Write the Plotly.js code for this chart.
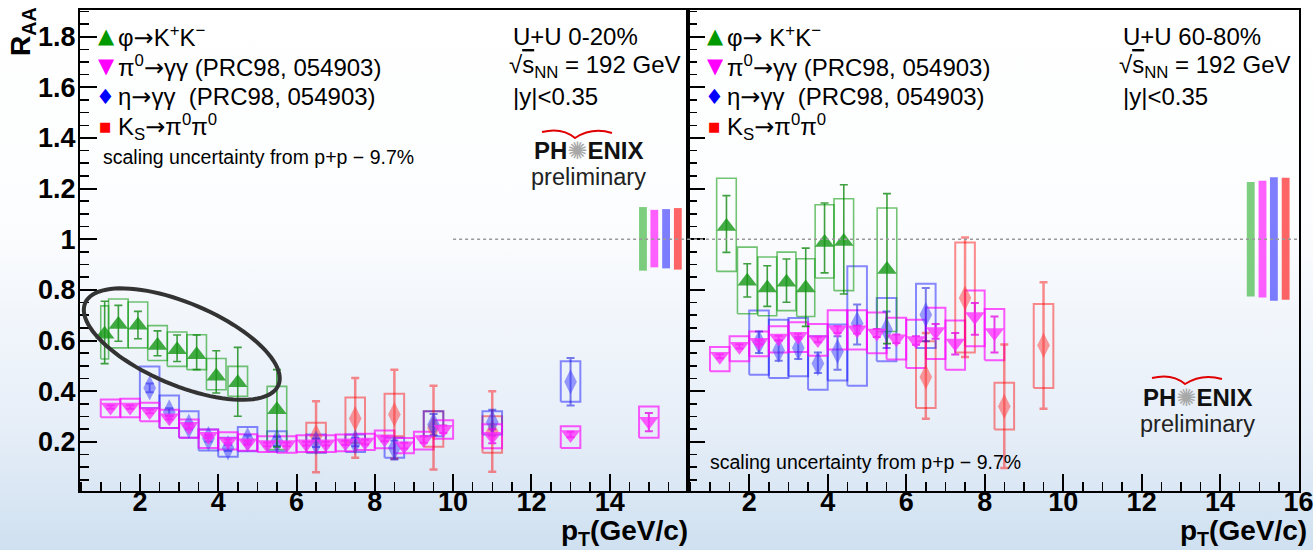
<!DOCTYPE html>
<html><head><meta charset="utf-8">
<script src="https://cdn.plot.ly/plotly-3.0.1.min.js"></script>
<style>
html,body{margin:0;padding:0;}
body{width:1313px;height:550px;overflow:hidden;background:linear-gradient(180deg,#ffffff 0%,#fcfdfe 40%,#e6eef8 78%,#cfe0f0 100%);}
#chart{width:1313px;height:550px;}
</style></head><body><div id="chart"></div>
<script>
// ================= DATA : U+U 0-20% (left panel) =================
const phiL_pt     = [1.1, 1.45, 1.95, 2.45, 2.95, 3.45, 3.95, 4.5, 5.5];
const phiL_raa    = [0.625, 0.663, 0.66, 0.58, 0.564, 0.544, 0.459, 0.433, 0.327];
const phiL_statHi = [0.755, 0.739, 0.715, 0.638, 0.622, 0.622, 0.56, 0.573, 0.485];
const phiL_statLo = [0.509, 0.597, 0.607, 0.54, 0.517, 0.485, 0.393, 0.301, 0.18];
const phiL_sysLo  = [0.527, 0.571, 0.571, 0.521, 0.498, 0.485, 0.406, 0.38, 0.17];
const phiL_sysHi  = [0.737, 0.764, 0.752, 0.659, 0.634, 0.623, 0.529, 0.498, 0.419];

const pi0L_pt     = [1.25,1.75,2.25,2.75,3.25,3.75,4.25,4.75,5.25,5.75,6.25,6.75,7.25,7.75,8.25,8.75,9.25,9.75,11,13,15];
const pi0L_raa    = [0.338,0.338,0.32,0.295,0.262,0.222,0.202,0.196,0.19,0.19,0.193,0.193,0.196,0.199,0.212,0.185,0.209,0.25,0.222,0.229,0.281];
const pi0L_statHi = [0.345,0.345,0.327,0.302,0.269,0.229,0.209,0.203,0.197,0.197,0.2,0.2,0.204,0.208,0.222,0.196,0.222,0.265,0.25,0.24,0.314];
const pi0L_statLo = [0.331,0.331,0.313,0.288,0.255,0.215,0.195,0.189,0.183,0.183,0.186,0.186,0.188,0.19,0.202,0.174,0.196,0.235,0.195,0.218,0.242];
const pi0L_sysLo  = [0.297,0.297,0.281,0.255,0.216,0.176,0.17,0.165,0.16,0.157,0.16,0.16,0.163,0.168,0.175,0.155,0.17,0.212,0.175,0.176,0.216];
const pi0L_sysHi  = [0.367,0.37,0.354,0.327,0.288,0.249,0.238,0.23,0.222,0.222,0.226,0.226,0.229,0.232,0.245,0.215,0.24,0.285,0.27,0.262,0.34];

const etaL_pt     = [2.25,2.75,3.25,3.75,4.25,4.75,5.5,6.5,7.5,8.5,9.5,11,13];
const etaL_raa    = [0.413,0.318,0.262,0.213,0.176,0.209,0.202,0.196,0.199,0.176,0.268,0.277,0.437];
const etaL_statHi = [0.43,0.333,0.275,0.225,0.188,0.225,0.22,0.212,0.215,0.205,0.31,0.327,0.531];
const etaL_statLo = [0.396,0.303,0.249,0.201,0.164,0.193,0.184,0.18,0.183,0.13,0.226,0.225,0.344];
const etaL_sysLo  = [0.334,0.255,0.216,0.166,0.141,0.163,0.163,0.157,0.16,0.137,0.222,0.229,0.358];
const etaL_sysHi  = [0.498,0.383,0.321,0.249,0.216,0.259,0.242,0.229,0.229,0.216,0.321,0.321,0.518];

const ksL_pt      = [6.5,7.5,8.5,9.5,11];
const ksL_raa     = [0.222,0.292,0.308,0.255,0.24];
const ksL_statHi  = [0.36,0.452,0.485,0.422,0.40];
const ksL_statLo  = [0.08,0.137,0.133,0.091,0.082];
const ksL_sysLo   = [0.159,0.196,0.222,0.181,0.157];
const ksL_sysHi   = [0.275,0.375,0.39,0.321,0.301];

// ================= DATA : U+U 60-80% (right panel) =================
const phiR_pt     = [1.42,1.95,2.46,2.95,3.44,3.92,4.41,5.51];
const phiR_raa    = [1.05,0.834,0.807,0.83,0.807,0.987,0.991,0.88];
const phiR_statHi = [1.172,0.903,0.895,0.922,0.965,1.143,1.215,1.18];
const phiR_statLo = [0.948,0.772,0.735,0.751,0.656,0.867,0.784,0.588];
const phiR_sysLo  = [0.873,0.706,0.698,0.718,0.695,0.847,0.797,0.636];
const phiR_sysHi  = [1.241,0.969,0.93,0.949,0.923,1.136,1.16,1.123];

const pi0R_pt     = [1.25,1.75,2.25,2.75,3.25,3.75,4.25,4.75,5.25,5.75,6.25,6.75,7.25,7.75,8.25];
const pi0R_raa    = [0.538,0.577,0.593,0.61,0.617,0.604,0.643,0.643,0.63,0.607,0.60,0.636,0.59,0.695,0.632];
const pi0R_statHi = [0.546,0.585,0.601,0.619,0.627,0.615,0.656,0.658,0.646,0.624,0.617,0.665,0.63,0.748,0.695];
const pi0R_statLo = [0.53,0.569,0.585,0.601,0.607,0.593,0.63,0.628,0.614,0.59,0.583,0.607,0.545,0.623,0.553];
const pi0R_sysLo  = [0.479,0.518,0.538,0.553,0.555,0.54,0.565,0.565,0.55,0.525,0.492,0.527,0.485,0.577,0.522];
const pi0R_sysHi  = [0.575,0.617,0.636,0.656,0.672,0.665,0.72,0.72,0.711,0.69,0.682,0.729,0.679,0.798,0.725];

const etaR_pt     = [2.25,2.75,3.25,3.75,4.25,4.75,5.5,6.5];
const etaR_raa    = [0.593,0.561,0.571,0.509,0.557,0.667,0.643,0.702];
const etaR_statHi = [0.636,0.60,0.614,0.553,0.617,0.742,0.715,0.807];
const etaR_statLo = [0.551,0.52,0.527,0.472,0.485,0.584,0.571,0.597];
const etaR_sysLo  = [0.465,0.452,0.459,0.406,0.442,0.422,0.518,0.571];
const etaR_sysHi  = [0.719,0.682,0.689,0.617,0.663,0.893,0.768,0.824];

const ksR_pt      = [6.5,7.5,8.5,9.5];
const ksR_raa     = [0.456,0.768,0.34,0.581];
const ksR_statHi  = [0.63,1.007,0.584,0.83];
const ksR_statLo  = [0.291,0.535,0.097,0.331];
const ksR_sysLo   = [0.334,0.553,0.249,0.413];
const ksR_sysHi   = [0.597,0.987,0.433,0.744];

// global scaling uncertainties (phi, pi0, eta, Ks)
const scaleBarPtL = [14.85,15.14,15.44,15.74];
const scaleL_lo   = [0.876,0.889,0.885,0.88];
const scaleL_hi   = [1.127,1.116,1.119,1.123];
const scaleBarPtR = [14.78,15.08,15.37,15.67];
const scaleR_lo   = [0.774,0.770,0.757,0.761];
const scaleR_hi   = [1.226,1.231,1.245,1.243];

// axis ticks
const xTicksL = [2,4,6,8,10,12,14];
const xTicksR = [2,4,6,8,10,12,14,16];
const yTicks  = [0.2,0.4,0.6,0.8,1,1.2,1.4,1.6,1.8];
const yTickText = ['0.2','0.4','0.6','0.8','1','1.2','1.4','1.6','1.8'];

// ================= STYLE / LAYOUT =================
const W=1313, H=550, ML=80, MR=14, MT=10, MB=59;
const plotW = W-ML-MR, plotH = H-MT-MB;
const splitPx = 688;
const xRangeL=[0.47,16], xRangeR=[0.44,16.01], yRange=[0.006,1.905];
const FONT = 'Liberation Sans, Arial, DejaVu Sans, sans-serif';
const ARR = "<span style='font-family:DejaVu Sans'>→</span>";

const C = {
  phi:{mk:'rgba(20,150,20,0.8)', box:'rgba(0,150,0,0.55)', err:'rgba(0,130,0,0.75)', bar:'rgba(0,160,0,0.5)', leg:'#009a00'},
  pi0:{mk:'rgba(255,40,255,0.75)', box:'rgba(255,0,255,0.65)', err:'rgba(230,0,230,0.75)', bar:'rgba(255,0,255,0.62)', leg:'#ff00ff'},
  eta:{mk:'rgba(60,60,255,0.5)', box:'rgba(0,0,255,0.45)', err:'rgba(0,0,220,0.5)', bar:'rgba(0,0,255,0.5)', leg:'#0000ff'},
  ks:{mk:'rgba(255,60,60,0.5)', box:'rgba(255,0,0,0.45)', err:'rgba(255,0,0,0.45)', bar:'rgba(255,0,0,0.6)', leg:'#ff0000'}
};

function boxTrace(pt, lo, hi, xa, ya, color, lw){
  const x=[], y=[];
  for(let i=0;i<pt.length;i++){
    let hw = 0.25;
    if(i<pt.length-1){ const g = pt[i+1]-pt[i]; if(g<0.5) hw = Math.max(0.08, g-0.25); }
    const a=pt[i]-hw, b=pt[i]+hw;
    x.push(a,b,b,a,a,null); y.push(lo[i],lo[i],hi[i],hi[i],lo[i],null);
  }
  return {type:'scatter', mode:'lines', x, y, xaxis:xa, yaxis:ya, line:{color, width:lw}, hoverinfo:'skip', showlegend:false, connectgaps:false};
}
function markTrace(pt, raa, sHi, sLo, xa, ya, col, symbol, size, thick){
  return {type:'scatter', mode:'markers', x:pt, y:raa, xaxis:xa, yaxis:ya, showlegend:false, hoverinfo:'x+y',
    marker:{symbol, size, color:col.mk, line:{width:0}},
    error_y:{type:'data', symmetric:false, array:sHi.map((v,i)=>v-raa[i]), arrayminus:sLo.map((v,i)=>raa[i]-v),
             color:col.err, thickness:thick, width:4}};
}
function scaleBars(pt, lo, hi, xa, ya){
  return {type:'bar', x:pt, base:lo, y:hi.map((v,i)=>v-lo[i]), width:0.2, xaxis:xa, yaxis:ya,
    marker:{color:[C.phi.bar,C.pi0.bar,C.eta.bar,C.ks.bar], line:{width:0}}, showlegend:false, hoverinfo:'skip'};
}

const traces = [
  scaleBars(scaleBarPtL, scaleL_lo, scaleL_hi, 'x','y'),
  scaleBars(scaleBarPtR, scaleR_lo, scaleR_hi, 'x2','y2'),
  boxTrace(ksL_pt, ksL_sysLo, ksL_sysHi, 'x','y', C.ks.box, 2),
  boxTrace(etaL_pt, etaL_sysLo, etaL_sysHi, 'x','y', C.eta.box, 2),
  boxTrace(pi0L_pt, pi0L_sysLo, pi0L_sysHi, 'x','y', C.pi0.box, 2),
  boxTrace(phiL_pt, phiL_sysLo, phiL_sysHi, 'x','y', C.phi.box, 1.6),
  boxTrace(ksR_pt, ksR_sysLo, ksR_sysHi, 'x2','y2', C.ks.box, 2),
  boxTrace(etaR_pt, etaR_sysLo, etaR_sysHi, 'x2','y2', C.eta.box, 2),
  boxTrace(pi0R_pt, pi0R_sysLo, pi0R_sysHi, 'x2','y2', C.pi0.box, 2),
  boxTrace(phiR_pt, phiR_sysLo, phiR_sysHi, 'x2','y2', C.phi.box, 1.6),
  markTrace(ksL_pt, ksL_raa, ksL_statHi, ksL_statLo, 'x','y', C.ks, 'diamond-tall', 18, 2.5),
  markTrace(etaL_pt, etaL_raa, etaL_statHi, etaL_statLo, 'x','y', C.eta, 'diamond-tall', 18, 2),
  markTrace(pi0L_pt, pi0L_raa, pi0L_statHi, pi0L_statLo, 'x','y', C.pi0, 'triangle-down', 17, 2),
  markTrace(phiL_pt, phiL_raa, phiL_statHi, phiL_statLo, 'x','y', C.phi, 'triangle-up', 17, 1.6),
  markTrace(ksR_pt, ksR_raa, ksR_statHi, ksR_statLo, 'x2','y2', C.ks, 'diamond-tall', 18, 2.5),
  markTrace(etaR_pt, etaR_raa, etaR_statHi, etaR_statLo, 'x2','y2', C.eta, 'diamond-tall', 18, 2),
  markTrace(pi0R_pt, pi0R_raa, pi0R_statHi, pi0R_statLo, 'x2','y2', C.pi0, 'triangle-down', 17, 2),
  markTrace(phiR_pt, phiR_raa, phiR_statHi, phiR_statLo, 'x2','y2', C.phi, 'triangle-up', 17, 1.6)
];

const px2x = px => (px-ML)/plotW;
const py2y = py => (H-MB-py)/plotH;
function ann(px, py, text, o={}){
  return Object.assign({xref:'paper', yref:'paper', x:px2x(px), y:py2y(py), text, showarrow:false,
    xanchor:'left', yanchor:'middle', font:{family:FONT, size:24, color:'#000'}}, o);
}

const tickFont = {family:FONT, size:27, color:'#000', weight:'bold'};
function xAxis(dom, range, ticks, anchor){
  return {domain:dom, range, anchor, showline:true, linecolor:'#000', linewidth:2, mirror:true,
    ticks:'inside', ticklen:17, tickwidth:2, tickcolor:'#000', tickmode:'array', tickvals:ticks, ticktext:ticks.map(String),
    tickfont:tickFont, ticklabelstandoff:-14, ticklabeloverflow:'allow', showgrid:false, zeroline:false,
    minor:{ticks:'inside', ticklen:9, tickwidth:1.5, tickcolor:'#000', tickmode:'linear', tick0:0, dtick:0.5, showgrid:false}};
}
function yAxis(anchor, labels){
  return {domain:[0,1], range:yRange, anchor, showline:true, linecolor:'#000', linewidth:2, mirror:true,
    ticks:'inside', ticklen:17, tickwidth:2, tickcolor:'#000', tickmode:'array', tickvals:yTicks, ticktext:yTickText,
    tickfont:tickFont, ticklabelstandoff:-3, showticklabels:labels, showgrid:false, zeroline:false,
    minor:{ticks:'inside', ticklen:9, tickwidth:1.5, tickcolor:'#000', tickmode:'linear', tick0:0, dtick:0.05, showgrid:false}};
}

const split = (splitPx-ML)/plotW;

// highlight ellipse (screen-space parameters)
const ell = {cx:3.07, cy:0.586, a:105, b:41, deg:23};
function ellipsePath(){
  const xpp = (xRangeL[1]-xRangeL[0])/(splitPx-ML);
  const ypp = (yRange[1]-yRange[0])/plotH;
  const th = ell.deg*Math.PI/180;
  let s='';
  for(let k=0;k<=96;k++){
    const t = 2*Math.PI*k/96;
    const dx = ell.a*Math.cos(t)*Math.cos(th) - ell.b*Math.sin(t)*Math.sin(th);
    const dy = ell.a*Math.cos(t)*Math.sin(th) + ell.b*Math.sin(t)*Math.cos(th);
    s += (k?' L ':'M ') + (ell.cx+dx*xpp).toFixed(4)+' '+(ell.cy-dy*ypp).toFixed(4);
  }
  return s+' Z';
}
function gull(x0, y0){ // PHENIX logo arc, pixel anchor
  const P=(px,py)=>px2x(px).toFixed(4)+' '+py2y(py).toFixed(4);
  return {type:'path', xref:'paper', yref:'paper', layer:'above', line:{color:'#e00000', width:2},
    path:`M ${P(x0,y0+1)} Q ${P(x0+20,y0-4)} ${P(x0+33,y0+7)} Q ${P(x0+50,y0-4)} ${P(x0+70,y0+2)}`};
}

const shapes = [
  {type:'line', xref:'x', yref:'y', x0:10, x1:16, y0:1, y1:1, layer:'above', line:{color:'#999', width:1.5, dash:'dot'}},
  {type:'line', xref:'x2', yref:'y2', x0:xRangeR[0], x1:16, y0:1, y1:1, layer:'above', line:{color:'#999', width:1.5, dash:'dot'}},
  {type:'path', xref:'x', yref:'y', layer:'above', path:ellipsePath(), line:{color:'#333', width:4}},
  gull(542,131), gull(1152,377)
];

const star = "<span style='color:#a8a8a8;font-weight:normal'>✺</span>";
const sq = "√<span style='text-decoration:overline'>s</span><sub>NN</sub> = 192 GeV";
const annotations = [
  ann(22, 32, '<b>R<sub>AA</sub></b>', {textangle:-90, xanchor:'center', font:{family:FONT,size:28,color:'#000'}}),
  ann(690, 532, '<b>p<sub>T</sub>(GeV/c)</b>', {xanchor:'right', font:{family:FONT,size:28,color:'#000'}}),
  ann(1309, 532, '<b>p<sub>T</sub>(GeV/c)</b>', {xanchor:'right', font:{family:FONT,size:28,color:'#000'}}),
  // left legend
  ann(106, 36, '▲', {xanchor:'center', font:{family:'DejaVu Sans',size:21,color:C.phi.leg}}),
  ann(106, 66, '▼', {xanchor:'center', font:{family:'DejaVu Sans',size:21,color:C.pi0.leg}}),
  ann(105, 97, '♦', {xanchor:'center', font:{family:'DejaVu Sans',size:21,color:C.eta.leg}}),
  ann(105, 127, '■', {xanchor:'center', font:{family:'DejaVu Sans',size:13,color:C.ks.leg}}),
  ann(116, 37, 'φ'+ARR+'K<sup>+</sup>K<sup>−</sup>'),
  ann(116, 67, 'π<sup>0</sup>'+ARR+'γγ (PRC98, 054903)'),
  ann(116, 97, 'η'+ARR+'γγ\u00a0 (PRC98, 054903)'),
  ann(116, 127, 'K<sub>S</sub>'+ARR+'π<sup>0</sup>π<sup>0</sup>'),
  ann(101, 157, 'scaling uncertainty from p+p − 9.7%', {font:{family:FONT,size:19.5,color:'#000'}}),
  ann(511, 37, 'U+U 0-20%'),
  ann(507, 67, sq),
  ann(511, 97, '|y|<0.35'),
  ann(588, 150, '<b>PH</b>'+star+'<b>ENIX</b>', {xanchor:'center', font:{family:FONT,size:24,color:'#111'}}),
  ann(588, 177, 'preliminary', {xanchor:'center', font:{family:FONT,size:23.5,color:'#222'}}),
  // right legend
  ann(715, 36, '▲', {xanchor:'center', font:{family:'DejaVu Sans',size:21,color:C.phi.leg}}),
  ann(715, 66, '▼', {xanchor:'center', font:{family:'DejaVu Sans',size:21,color:C.pi0.leg}}),
  ann(714, 97, '♦', {xanchor:'center', font:{family:'DejaVu Sans',size:21,color:C.eta.leg}}),
  ann(714, 127, '■', {xanchor:'center', font:{family:'DejaVu Sans',size:13,color:C.ks.leg}}),
  ann(725, 37, 'φ'+ARR+' K<sup>+</sup>K<sup>−</sup>'),
  ann(725, 67, 'π<sup>0</sup>'+ARR+'γγ (PRC98, 054903)'),
  ann(725, 97, 'η'+ARR+'γγ\u00a0 (PRC98, 054903)'),
  ann(725, 127, 'K<sub>S</sub>'+ARR+'π<sup>0</sup>π<sup>0</sup>'),
  ann(708, 462, 'scaling uncertainty from p+p − 9.7%', {font:{family:FONT,size:19.5,color:'#000'}}),
  ann(1121, 37, 'U+U 60-80%'),
  ann(1117, 67, sq),
  ann(1121, 97, '|y|<0.35'),
  ann(1197, 397, '<b>PH</b>'+star+'<b>ENIX</b>', {xanchor:'center', font:{family:FONT,size:24,color:'#111'}}),
  ann(1197, 424, 'preliminary', {xanchor:'center', font:{family:FONT,size:23.5,color:'#222'}})
];

const layout = {
  width:W, height:H, margin:{l:ML, r:MR, t:MT, b:MB, pad:0},
  paper_bgcolor:'rgba(0,0,0,0)', plot_bgcolor:'rgba(0,0,0,0)',
  showlegend:false, barmode:'overlay', font:{family:FONT, color:'#000'},
  xaxis: xAxis([0,split], xRangeL, xTicksL, 'y'),
  xaxis2: xAxis([split,1], xRangeR, xTicksR, 'y2'),
  yaxis: yAxis('x', true),
  yaxis2: yAxis('x2', false),
  shapes, annotations
};
Plotly.newPlot('chart', traces, layout, {displayModeBar:false, staticPlot:true});
</script></body></html>
